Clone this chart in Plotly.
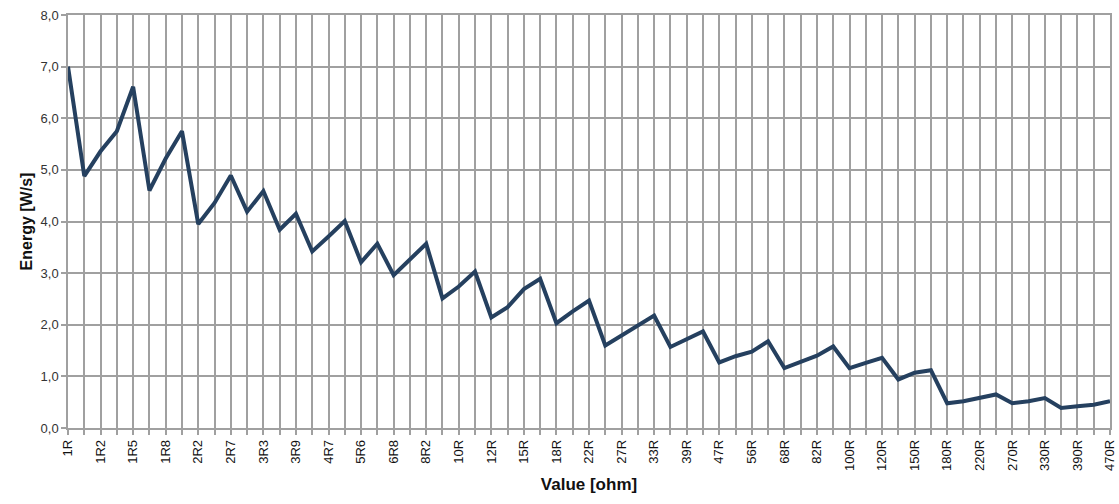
import plotly.graph_objects as go

categories = ["1R", "1R1", "1R2", "1R3", "1R5", "1R6", "1R8", "2R0", "2R2", "2R4", "2R7", "3R0",
              "3R3", "3R6", "3R9", "4R3", "4R7", "5R1", "5R6", "6R2", "6R8", "7R5", "8R2", "9R1",
              "10R", "11R", "12R", "13R", "15R", "16R", "18R", "20R", "22R", "24R", "27R", "30R",
              "33R", "36R", "39R", "43R", "47R", "51R", "56R", "62R", "68R", "75R", "82R", "91R",
              "100R", "110R", "120R", "130R", "150R", "160R", "180R", "200R", "220R", "240R",
              "270R", "300R", "330R", "360R", "390R", "430R", "470R"]

energy = [7.00, 4.88, 5.36, 5.75, 6.61, 4.60, 5.22, 5.75, 3.95, 4.36, 4.89, 4.19,
          4.59, 3.84, 4.15, 3.42, 3.71, 4.01, 3.21, 3.57, 2.96, 3.26, 3.57, 2.51,
          2.74, 3.03, 2.14, 2.34, 2.69, 2.89, 2.03, 2.26, 2.47, 1.60, 1.79, 1.98,
          2.18, 1.57, 1.71, 1.87, 1.27, 1.39, 1.48, 1.68, 1.16, 1.29, 1.40, 1.58,
          1.16, 1.26, 1.36, 0.94, 1.07, 1.12, 0.48, 0.52, 0.58, 0.65,
          0.48, 0.52, 0.58, 0.39, 0.42, 0.45, 0.52]

tick_labels = [c if i % 2 == 0 else "" for i, c in enumerate(categories)]

fig = go.Figure()
fig.add_trace(go.Scatter(
    x=categories, y=energy, mode="lines",
    line=dict(color="#25405F", width=4),
    showlegend=False,
))

fig.update_layout(
    width=1119, height=504,
    margin=dict(l=68, r=9, t=15, b=76),
    paper_bgcolor="white", plot_bgcolor="white",
    separators=",.",
    font=dict(family="Liberation Sans, Arial, sans-serif", size=12, color="#222"),
    xaxis=dict(
        type="category", automargin=False,
        tickmode="array", tickvals=categories, ticktext=tick_labels,
        tickangle=-90,
        range=[0, len(categories) - 1],
        showgrid=True, gridcolor="#A0A0A0", gridwidth=1.5,
        showline=True, linecolor="#A0A0A0", linewidth=1.5, mirror=True,
        ticks="outside", ticklen=5, tickcolor="#A0A0A0", tickwidth=1.5,
        tickfont=dict(size=13, color="#111"),
        title=dict(text="<b>Value [ohm]</b>", font=dict(size=17, color="#111"), standoff=8),
    ),
    yaxis=dict(
        automargin=False,
        range=[0, 8], dtick=1, tickformat=".1f",
        showgrid=True, gridcolor="#A0A0A0", gridwidth=1.5,
        showline=True, linecolor="#A0A0A0", linewidth=1.5, mirror=True,
        ticks="outside", ticklen=5, tickcolor="#A0A0A0", tickwidth=1.5,
        zeroline=False,
        tickfont=dict(size=13, color="#333"),
        title=dict(text="<b>Energy [W/s]</b>", font=dict(size=16, color="#111"), standoff=4),
    ),
)

# remove the page's default body margin so the figure fills the window exactly
fig.write_html(
    "out.html",
    config={"displayModeBar": False},
    post_script="document.body.style.margin='0';document.body.style.overflow='hidden';",
)
